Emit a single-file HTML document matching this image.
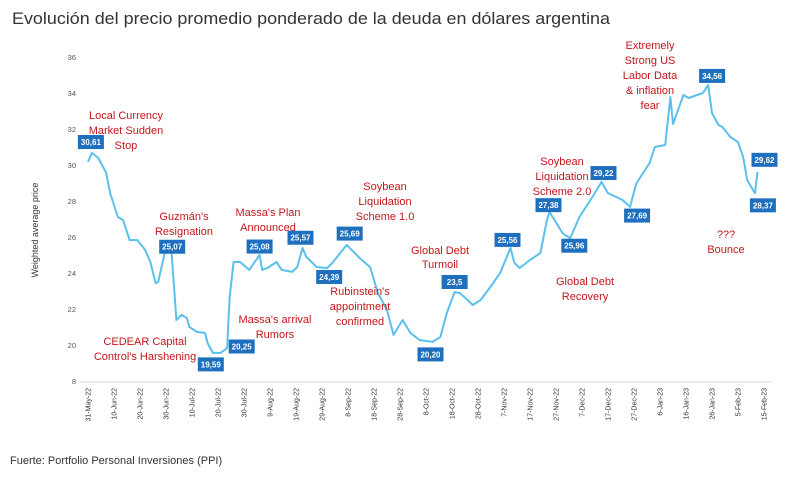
<!DOCTYPE html>
<html><head><meta charset="utf-8"><style>
html,body{margin:0;padding:0;background:#fff;}
svg{display:block;font-family:"Liberation Sans",sans-serif;}
.ann{fill:#c4161c;font-size:11px;text-anchor:middle;}
.lbl rect{fill:#1f6fbf;}
.lbl text{fill:#fff;font-size:8px;text-anchor:middle;font-weight:bold;}
.xt{font-size:7px;fill:#333;}
.yt{font-size:7.5px;fill:#555;text-anchor:end;}
</style></head><body>
<svg id="chart" width="800" height="477" viewBox="0 0 800 477">
<text x="12" y="24" font-size="17" fill="#333" textLength="598" lengthAdjust="spacingAndGlyphs">Evolución del precio promedio ponderado de la deuda en dólares argentina</text>
<text transform="translate(38,230) rotate(-90)" font-size="9" fill="#333" text-anchor="middle">Weighted average price</text>
<line x1="80" y1="382" x2="772" y2="382" stroke="#d9d9d9" stroke-width="1"/>
<g id="yticks"></g>
<g id="xticks"></g>
<path id="line" fill="none" stroke="#5bc0eb" stroke-width="2" stroke-linejoin="round"/>
<g>
<text class="ann" x="126" y="119">Local Currency</text>
<text class="ann" x="126" y="134">Market Sudden</text>
<text class="ann" x="126" y="149">Stop</text>
<text class="ann" x="184" y="220">Guzmán's</text>
<text class="ann" x="184" y="235">Resignation</text>
<text class="ann" x="268" y="216">Massa's Plan</text>
<text class="ann" x="268" y="231">Announced</text>
<text class="ann" x="385" y="190">Soybean</text>
<text class="ann" x="385" y="205">Liquidation</text>
<text class="ann" x="385" y="220">Scheme 1.0</text>
<text class="ann" x="360" y="295">Rubinstein's</text>
<text class="ann" x="360" y="310">appointment</text>
<text class="ann" x="360" y="325">confirmed</text>
<text class="ann" x="275" y="323">Massa's arrival</text>
<text class="ann" x="275" y="338">Rumors</text>
<text class="ann" x="145" y="345">CEDEAR Capital</text>
<text class="ann" x="145" y="360">Control's Harshening</text>
<text class="ann" x="440" y="254">Global Debt</text>
<text class="ann" x="440" y="268">Turmoil</text>
<text class="ann" x="562" y="165">Soybean</text>
<text class="ann" x="562" y="180">Liquidation</text>
<text class="ann" x="562" y="195">Scheme 2.0</text>
<text class="ann" x="585" y="285">Global Debt</text>
<text class="ann" x="585" y="300">Recovery</text>
<text class="ann" x="650" y="49">Extremely</text>
<text class="ann" x="650" y="64">Strong US</text>
<text class="ann" x="650" y="79">Labor Data</text>
<text class="ann" x="650" y="94">&amp; inflation</text>
<text class="ann" x="650" y="109">fear</text>
<text class="ann" x="726" y="238">???</text>
<text class="ann" x="726" y="253">Bounce</text>
</g>
<g id="labels"></g>
<text x="10" y="464" font-size="11" fill="#333">Fuerte: Portfolio Personal Inversiones (PPI)</text>
</svg>
<script>
const xTickLabels = ["31-May-22","10-Jun-22","20-Jun-22","30-Jun-22","10-Jul-22","20-Jul-22","30-Jul-22","9-Aug-22","19-Aug-22","29-Aug-22","8-Sep-22","18-Sep-22","28-Sep-22","8-Oct-22","18-Oct-22","28-Oct-22","7-Nov-22","17-Nov-22","27-Nov-22","7-Dec-22","17-Dec-22","27-Dec-22","6-Jan-23","16-Jan-23","26-Jan-23","5-Feb-23","15-Feb-23"];
const yTickValues = [18,20,22,24,26,28,30,32,34,36];
const yTickLabels = ["8","20","22","24","26","28","30","32","34","36"];
const dayOffsets = [0,1.5,4,7,8.5,11.5,13.5,15,16,19,22,24,26,27,29.5,32,34,36,38,39,42,45,46,48,51,53.5,54.5,56,58.5,62,66,67,69,72.5,74.5,78.5,80.5,82.5,84,88,92,94,99.5,104.5,108.5,111.5,115,117.5,121,124,127.5,132.5,135.5,138,141,143,146,148,151,154.5,158.5,162.5,164,166,170,174,176.5,177.5,182.5,183.5,185.5,189,194,197.5,200,205.5,208.5,210.5,211,216,218,222,224,225,229,231,236.5,238.5,240,242.5,244,247,250,252,253.5,256.5,257.5];
const prices = [30.17,30.67,30.39,29.56,28.44,27.11,26.94,26.28,25.83,25.83,25.28,24.61,23.44,23.5,25.11,25.44,21.39,21.67,21.5,21.0,20.72,20.67,20.11,19.56,19.56,19.83,22.67,24.61,24.61,24.17,25.0,24.17,24.28,24.61,24.17,24.06,24.33,25.39,24.89,24.33,24.28,24.56,25.56,24.83,24.33,22.89,21.94,20.56,21.39,20.67,20.28,20.17,20.44,21.78,22.94,22.89,22.5,22.22,22.5,23.17,24.0,25.39,24.56,24.28,24.72,25.11,26.94,27.39,26.22,26.11,25.94,27.11,28.22,29.06,28.44,28.06,27.67,28.78,29.0,30.11,31.0,31.11,33.78,32.28,33.89,33.72,34.0,34.44,32.89,32.22,32.11,31.56,31.28,30.44,29.17,28.44,29.61];
const labelTexts = ["30,61","25,07","19,59","20,25","25,08","25,57","24,39","25,69","20,20","23,5","25,56","27,38","25,96","29,22","27,69","34,56","29,62","28,37"];
const labelDays = [1.5,32,48,54.5,66,82.5,92,99.5,132.5,141,162.5,177.5,185.5,197.5,208.5,238.5,257.5,256.5];
const labelVals = [30.61,25.07,19.59,20.25,25.08,25.57,24.39,25.69,20.20,23.5,25.56,27.38,25.96,29.22,27.69,34.56,29.62,28.37];

const NS="http://www.w3.org/2000/svg";
const xScale = d => 88 + d*2.6;
const yScale = v => 345 - (v-20)*18;
// box placement offsets relative to the labelled point (styling, not data)
const boxDx = [-1,1,-2,12,0,-2,2,3,-2,0,-3,-1,4,2,7,4,7,8];
const boxDy = [-12,-7,12,6,-7,-7,11,-9,13,0,-5,-7,8,-6,9,-7,-12,11];

const yg=document.getElementById('yticks');
yTickValues.forEach((v,i)=>{
  const t=document.createElementNS(NS,'text');
  t.setAttribute('class','yt');t.setAttribute('x',76);t.setAttribute('y',yScale(v)+3);
  t.textContent=yTickLabels[i];
  
  
  yg.appendChild(t);
});
const xg=document.getElementById('xticks');
xTickLabels.forEach((s,i)=>{
  const x=xScale(i*10);
  const t=document.createElementNS(NS,'text');
  t.setAttribute('class','xt');t.setAttribute('text-anchor','end');
  t.setAttribute('transform',`translate(${x+2.5},388) rotate(-90)`);
  t.textContent=s;
  
  
  xg.appendChild(t);
});
document.getElementById('line').setAttribute('d',dayOffsets.map((d,i)=>(i?'L':'M')+xScale(d).toFixed(1)+','+yScale(prices[i]).toFixed(1)).join(''));
const lg=document.getElementById('labels');
labelTexts.forEach((s,i)=>{
  const g=document.createElementNS(NS,'g');g.setAttribute('class','lbl');
  
  
  const cx=xScale(labelDays[i])+boxDx[i];
  const cy=yScale(labelVals[i])+boxDy[i];
  const r=document.createElementNS(NS,'rect');
  r.setAttribute('x',cx-13);r.setAttribute('y',cy-7);r.setAttribute('width',26);r.setAttribute('height',14);
  const t=document.createElementNS(NS,'text');t.setAttribute('x',cx);t.setAttribute('y',cy+3);t.textContent=s;
  g.appendChild(r);g.appendChild(t);lg.appendChild(g);
});
</script>
</body></html>
